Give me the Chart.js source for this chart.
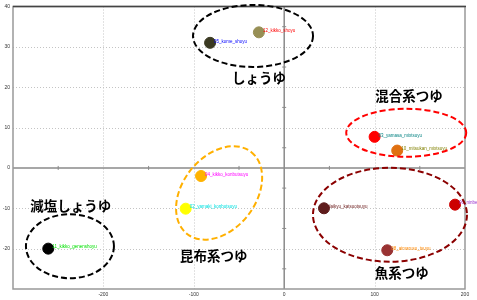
<!DOCTYPE html>
<html lang="ja">
<head>
<meta charset="UTF-8">
<title>つゆ 分布</title>
<script src="https://cdn.jsdelivr.net/npm/chart.js"></script>
<style>
    body { margin: 0; background: white; }
    #chart { display: block; }
</style>
</head>
<body>
<canvas id="chart" width="477" height="300"></canvas>
<script>
// サンプル名と座標
const names = [
    "11_kikko_genenshoyu", "12_kikko_shoyu", "05_kome_shoyu",
    "04_kikko_konbutsuyu", "02_yamaki_konbutsuyu",
    "03_yamasa_mixtsuyu", "10_mitsukan_mixtsuyu",
    "daikyu_katsuotsuyu", "06_ninben_tsuyu", "08_aimarusu_tsuyu"
];
const xs = [-261, -28, -82, -92, -109, 100, 125, 44, 189, 114];
const ys = [-20, 33.6, 31, -2, -10.1, 7.7, 4.3, -10, -9.1, -20.4];
const xTicks = [-200, -100, 0, 100, 200];
const yTicks = [40, 30, 20, 10, 0, -10, -20];

// グループ (楕円)
const groupNames = ["しょうゆ", "減塩しょうゆ", "昆布系つゆ", "混合系つゆ", "魚系つゆ"];
const groupCx = [-34.5, -237, -72, 135, 117];
const groupCy = [32.7, -19.4, -6.2, 8.7, -11.6];
const groupTx = [-28, -236, -78, 138, 130];
const groupTy = [22.2, -9.4, -21.9, 17.8, -26];

// styles
const pointColors = ["#000000", "#978f55", "#3b3a22", "#ffb300", "#ffff00",
    "#ff0000", "#e07010", "#5e1c1c", "#cc0000", "#993333"];
const labelColors = ["#00e000", "#ff0000", "#0000ff", "#ff00ff", "#00e0e0",
    "#008080", "#808000", "#6b1a1a", "#9933cc", "#ff8800"];
const ellipseStyle = [
    { color: "#000000", rx: 60, ry: 31, rot: 0 },
    { color: "#000000", rx: 44, ry: 32, rot: 0 },
    { color: "#ffb000", rx: 52, ry: 36.5, rot: -52 },
    { color: "#ff0000", rx: 60, ry: 24, rot: 0 },
    { color: "#8b0000", rx: 77, ry: 47, rot: 0 }
];

const gridPlugin = {
    id: 'grid',
    beforeDatasetsDraw(chart) {
        const { ctx, chartArea: a, scales: { x, y } } = chart;
        ctx.save();
        ctx.strokeStyle = '#c4c4c4';
        ctx.lineWidth = 1;
        ctx.setLineDash([1, 2]);
        xTicks.forEach(v => {
            if (v === 0 || v === 200) return;
            const px = Math.round(x.getPixelForValue(v)) + 0.5;
            ctx.beginPath(); ctx.moveTo(px, a.top); ctx.lineTo(px, a.bottom); ctx.stroke();
        });
        yTicks.forEach(v => {
            if (v === 0 || v === 40) return;
            const py = Math.round(y.getPixelForValue(v)) + 0.5;
            ctx.beginPath(); ctx.moveTo(a.left, py); ctx.lineTo(a.right, py); ctx.stroke();
        });
        ctx.setLineDash([]);
        // 0 の軸
        ctx.strokeStyle = '#8a8a8a';
        ctx.lineWidth = 1.5;
        const x0 = x.getPixelForValue(0), y0 = y.getPixelForValue(0);
        ctx.beginPath(); ctx.moveTo(x0, a.top); ctx.lineTo(x0, a.bottom); ctx.stroke();
        ctx.beginPath(); ctx.moveTo(a.left, y0); ctx.lineTo(a.right, y0); ctx.stroke();
        ctx.lineWidth = 1;
        for (let v = -250; v < 200; v += 100) {
            const px = x.getPixelForValue(v);
            ctx.beginPath(); ctx.moveTo(px, y0 - 2); ctx.lineTo(px, y0 + 2); ctx.stroke();
        }
        for (let v = -25; v < 40; v += 10) {
            const py = y.getPixelForValue(v);
            ctx.beginPath(); ctx.moveTo(x0 - 2, py); ctx.lineTo(x0 + 2, py); ctx.stroke();
        }
        // 枠
        ctx.strokeStyle = '#999999';
        ctx.lineWidth = 1.5;
        ctx.strokeRect(a.left, a.top, a.right - a.left, a.bottom - a.top);
        ctx.strokeStyle = '#444444';
        ctx.beginPath(); ctx.moveTo(a.left, a.top); ctx.lineTo(a.right + 1, a.top); ctx.stroke();
        ctx.restore();
    }
};

const groupPlugin = {
    id: 'groups',
    afterDatasetsDraw(chart) {
        const { ctx, scales: { x, y } } = chart;
        ctx.save();
        // 点のラベル
        const meta = chart.getDatasetMeta(0);
        ctx.font = '4.5px Arial';
        ctx.textBaseline = 'middle';
        ctx.textAlign = 'left';
        meta.data.forEach((pt, i) => {
            ctx.fillStyle = labelColors[i];
            ctx.fillText(names[i], pt.x + 4, pt.y - 1.5);
        });
        // 楕円
        ctx.lineWidth = 2;
        ctx.setLineDash([6, 3]);
        groupNames.forEach((g, i) => {
            const s = ellipseStyle[i];
            ctx.strokeStyle = s.color;
            ctx.beginPath();
            ctx.ellipse(x.getPixelForValue(groupCx[i]), y.getPixelForValue(groupCy[i]),
                s.rx, s.ry, s.rot * Math.PI / 180, 0, Math.PI * 2);
            ctx.stroke();
        });
        ctx.setLineDash([]);
        ctx.fillStyle = '#000';
        ctx.font = 'bold 13.5px "Noto Sans CJK JP"';
        ctx.textAlign = 'center';
        groupNames.forEach((g, i) => {
            ctx.fillText(g, x.getPixelForValue(groupTx[i]), y.getPixelForValue(groupTy[i]));
        });
        ctx.restore();
    }
};

const chart = new Chart(document.getElementById('chart'), {
    type: 'scatter',
    data: {
        datasets: [{
            data: xs.map((v, i) => ({ x: v, y: ys[i] })),
            backgroundColor: pointColors,
            borderColor: pointColors,
            pointRadius: 5.5,
            pointHoverRadius: 5.5
        }]
    },
    options: {
        responsive: false,
        animation: false,
        layout: { padding: { top: 3, right: 12, left: 0, bottom: 0 } },
        plugins: { legend: { display: false }, tooltip: { enabled: false } },
        scales: {
            x: {
                type: 'linear', min: -300, max: 200,
                afterFit: s => { s.height = 11; },
                ticks: {
                    stepSize: 100, padding: 3, maxRotation: 0,
                    font: { size: 5, family: 'Arial' }, color: '#333',
                    callback: v => v === -300 ? '' : v
                },
                grid: { display: false, drawTicks: false },
                border: { display: false }
            },
            y: {
                min: -30, max: 40,
                afterFit: s => { s.width = 13; },
                ticks: {
                    stepSize: 10, padding: 3,
                    font: { size: 5, family: 'Arial' }, color: '#333',
                    callback: v => v === -30 ? '' : v
                },
                grid: { display: false, drawTicks: false },
                border: { display: false }
            }
        }
    },
    plugins: [gridPlugin, groupPlugin]
});
</script>
</body>
</html>
